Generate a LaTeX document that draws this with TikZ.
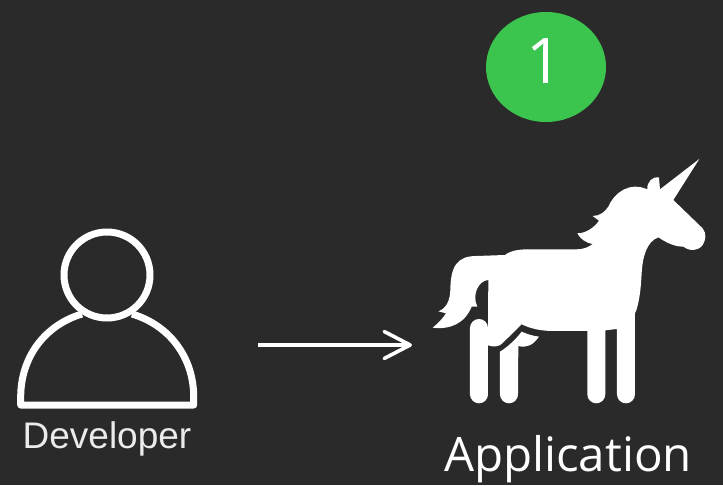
\documentclass[tikz,border=0pt]{standalone}
\usepackage{fontspec}
\usepackage{tikz}
\usetikzlibrary{shapes.geometric, arrows.meta, positioning}
\newfontfamily\opensans{Open Sans}
\newfontfamily\liberation{Liberation Sans}
\definecolor{darkbg}{HTML}{2A2A2A}
\definecolor{badgegreen}{HTML}{3CC54E}

\begin{document}
\begin{tikzpicture}[x=1pt, y=-1pt]

% --- Define Styles ---
\tikzstyle{badge} = [ellipse, minimum width=120pt, minimum height=110pt, inner sep=0pt, fill=badgegreen]
\tikzstyle{caption} = [inner sep=0pt, text=white]
\tikzstyle{outline} = [draw=white, line width=7pt, line join=round]
\tikzstyle{arrow} = [draw=white, line width=3.6pt, -{Straight Barb[length=26pt, width=27pt, line width=3.6pt, round]}]

% --- Background ---
\fill[darkbg] (0,0) rectangle (723,485);

% --- Nodes ---
\node (badge) [badge] at (546,67) {};
\node (number) [caption, font=\opensans\fontsize{63}{63}\selectfont] at (545,61) {1};
\node (developer) [caption, text=white!92!black, font=\liberation\fontsize{37}{37}\selectfont] at (107,439) {Developer};
\node (application) [caption, font=\opensans\fontsize{47.5}{47.5}\selectfont] at (568,459) {Application};
\coordinate (arrowstart) at (258,345);
\coordinate (arrowend) at (412,345);

% --- Person ---
\draw [outline] (107,275) circle (43);
\draw [outline] (82,314) .. controls (45,325) and (20.7,357) .. (20.7,397) -- (20.7,405) -- (193.7,405) -- (193.7,397) .. controls (193.7,357) and (169,325) .. (132,314);

% --- Unicorn ---
\begin{scope}[shift={(420,150)}, x=0.3333pt, y=-0.3333pt]
\fill[white] (838,27) -- (760,150) -- (848,235) .. controls (860,250) and (858,270) .. (848,285)
  .. controls (835,303) and (810,305) .. (790,290) .. controls (760,290) and (735,275) .. (715,262)
  .. controls (680,275) and (668,320) .. (665,370) .. controls (662,430) and (655,470) .. (645,490)
  -- (645,733) arc (0:180:27) -- (591,537) -- (556,541) -- (556,733) arc (0:180:27) -- (502,543)
  -- (400,543) .. controls (360,543) and (330,535) .. (305,523) -- (245,582) .. controls (235,590) and (220,592) .. (204,586)
  -- (204,733) arc (0:180:27) -- (150,534) arc (180:360:27) -- (205,390)
  .. controls (175,392) and (155,435) .. (172,470) -- (155,470) .. controls (135,520) and (90,540) .. (38,533)
  .. controls (55,520) and (68,505) .. (78,490) -- (55,484) .. controls (80,475) and (90,450) .. (91,420)
  .. controls (92,350) and (110,318) .. (170,318) -- (255,315) .. controls (275,300) and (300,298) .. (330,298)
  -- (470,298) .. controls (490,298) and (505,292) .. (518,282) .. controls (495,278) and (480,265) .. (472,250)
  .. controls (500,250) and (525,230) .. (537,212) -- (518,198) .. controls (540,198) and (555,185) .. (565,170)
  .. controls (585,125) and (630,95) .. (682,118) .. controls (680,95) and (700,78) .. (717,82) -- (720,118) -- cycle;
\fill[white] (240,605) .. controls (265,590) and (290,565) .. (305,545) .. controls (320,552) and (340,558) .. (357,560)
  .. controls (340,585) and (320,595) .. (295,588) -- (294,733) arc (0:180:27) -- cycle;
\end{scope}

% --- Arrows ---
\draw [arrow] (arrowstart) -- (arrowend);

\end{tikzpicture}
\end{document}
